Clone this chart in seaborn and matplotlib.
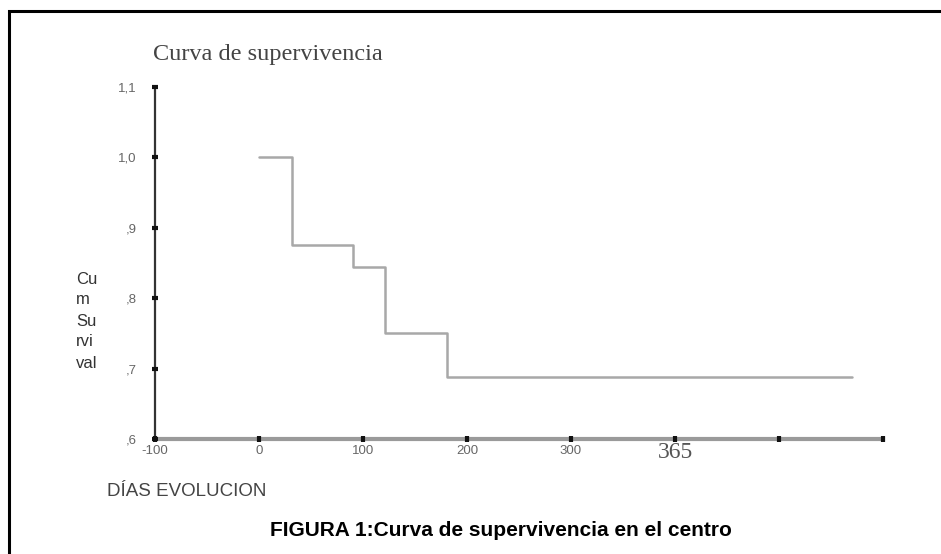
import matplotlib
matplotlib.use('Agg')
import matplotlib.pyplot as plt
import seaborn as sns
import pandas as pd
from matplotlib.patches import Rectangle

# survival steps
days = [0, 32, 90, 121, 181, 570]
survival = [1.0, 0.875, 0.84375, 0.75, 0.6875, 0.6875]

x_ticks = [-100, 0, 100, 200, 300, 400, 500, 600]
x_tick_labels = ['-100', '0', '100', '200', '300', '', '', '']
y_ticks = [0.6, 0.7, 0.8, 0.9, 1.0, 1.1]
y_tick_labels = [',6', ',7', ',8', ',9', '1,0', '1,1']

sns.set_theme(style='white')
plt.rcParams['font.family'] = ['Liberation Sans', 'DejaVu Sans']

df = pd.DataFrame({'dias': days, 'surv': survival})

fig = plt.figure(figsize=(9.41, 5.54), dpi=100)
ax = fig.add_axes([0.1647, 0.2076, 0.9384 - 0.1647, 0.843 - 0.2076])

sns.lineplot(data=df, x='dias', y='surv', drawstyle='steps-post',
             color='#a8a8a8', linewidth=1.8, ax=ax)

ax.set_xlim(-100, 600)
ax.set_ylim(0.6, 1.1)
ax.set_xticks(x_ticks)
ax.set_xticklabels(x_tick_labels, fontsize=9.5, color='#666666')
ax.set_yticks(y_ticks)
ax.set_yticklabels(y_tick_labels, fontsize=9.5, color='#666666')
ax.set_axisbelow(False)
ax.tick_params(axis='both', bottom=True, left=True, length=4, width=3,
               color='#111111', direction='inout')
ax.tick_params(axis='x', pad=2)
ax.tick_params(axis='y', pad=11)
ax.set_xlabel('')
ax.set_ylabel('')

for s in ['top', 'right']:
    ax.spines[s].set_visible(False)
ax.spines['left'].set_color('#333333')
ax.spines['left'].set_linewidth(1.6)
ax.spines['bottom'].set_color('#9a9a9a')
ax.spines['bottom'].set_linewidth(3)
ax.spines['bottom'].set_zorder(1)

# "365" label sits under the 400 tick in a serif face
ax.text(400, -0.008, '365', transform=ax.get_xaxis_transform(),
        ha='center', va='top', fontsize=17, color='#555555',
        family=['Liberation Serif', 'DejaVu Serif'])

fig.text(153 / 941, 1 - 54 / 554, 'Curva de supervivencia', fontsize=17.5,
         color='#444444', family=['Liberation Serif', 'DejaVu Serif'],
         ha='left', va='center')
fig.text(76 / 941, 1 - 321 / 554, 'Cu\nm\nSu\nrvi\nval', fontsize=12,
         color='#333333', ha='left', va='center', linespacing=1.5)
fig.text(107 / 941, 1 - 491 / 554, 'DÍAS EVOLUCION', fontsize=13.5,
         color='#444444', ha='left', va='center')
fig.text(501 / 941, 1 - 531 / 554,
         'FIGURA 1:Curva de supervivencia en el centro',
         fontsize=15, fontweight='bold', color='black',
         ha='center', va='center')

# frame of the original figure box: only top and left edges visible
fig.add_artist(Rectangle((9 / 941, -0.1), 1.2, 1 - 11 / 554 + 0.1,
                         transform=fig.transFigure, fill=False,
                         edgecolor='black', linewidth=2.2))

fig.savefig('out.png', dpi=100, facecolor='white')
